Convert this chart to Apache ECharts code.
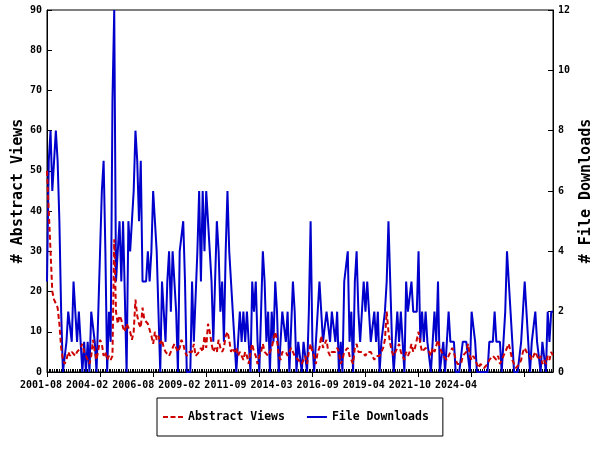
<!DOCTYPE html>
<html><head><meta charset="utf-8">
<script src="https://cdn.jsdelivr.net/npm/echarts@6/dist/echarts.min.js"></script>
<style>html,body{margin:0;padding:0;background:#fff}#c{width:600px;height:450px}</style>
</head><body><div id="c"></div>
<script>
// ---- data ----
const startYear = 2001, startMonth = 8, monthCount = 287;
const tickLabels = ['2001-08','2004-02','2006-08','2009-02','2011-09','2014-03','2016-09','2019-04','2021-10','2024-04'];
const abstractViews = [
 50,40,30,20,18,18,16,12,6,3,
 2,3,5,4,5,5,4,5,5,6,
 7,5,5,3,2,4,8,5,3,3,
 8,7,4,5,3,4,3,4,33,15,
 12,14,13,11,10,12,11,10,8,10,
 18,14,12,11,16,13,13,12,12,9,
 7,10,8,9,7,8,6,5,5,4,
 4,6,7,7,5,6,8,7,5,4,
 5,5,5,7,4,4,5,6,5,9,
 6,12,10,7,5,6,5,8,6,5,
 6,9,10,8,5,6,5,6,4,5,
 4,3,5,4,2,5,7,5,4,2,
 4,5,7,5,5,4,5,6,8,10,
 8,4,3,5,5,5,4,4,6,5,
 4,4,3,3,2,3,4,2,5,7,
 5,4,2,5,6,9,6,7,8,5,
 4,5,5,5,6,5,2,3,5,5,
 6,4,3,2,6,7,5,5,5,5,
 4,5,5,5,4,3,4,4,4,5,
 6,8,15,10,7,5,4,5,6,7,
 5,4,3,5,4,5,7,5,6,6,
 10,7,5,5,6,6,5,4,6,5,
 5,8,6,5,4,4,3,4,5,6,
 5,3,2,2,2,4,4,5,7,4,
 3,4,3,2,1,2,2,1,1,2,
 3,3,4,4,3,4,2,3,4,5,
 6,7,5,3,2,1,1,2,3,5,
 6,5,5,4,3,4,5,4,3,4,
 2,3,2,4,3,5,4
];
const fileDownloads = [
 3,7,8,6,6,8,7,5,2,0,
 0,1,2,2,1,3,2,1,2,2,
 0,1,0,1,0,2,2,1,0,2,
 4,6,7,4,0,2,1,9,12,3,
 4,5,3,5,5,0,5,4,5,6,
 8,7,5,7,3,3,3,4,3,4,
 6,5,4,2,0,3,2,1,3,4,
 2,4,4,2,0,4,4,5,3,0,
 0,0,3,1,1,4,6,3,6,4,
 6,5,4,3,1,3,5,4,2,3,
 1,4,6,4,3,2,2,0,1,2,
 1,2,1,2,1,0,3,2,3,1,
 0,2,4,3,1,2,0,2,1,3,
 2,0,1,2,2,1,2,0,0,3,
 2,0,1,1,0,1,1,0,2,5,
 1,0,1,1,3,2,1,1,2,2,
 1,2,2,1,2,0,1,0,3,3,
 4,1,2,0,3,4,2,1,1,3,
 2,3,2,1,1,2,1,2,0,1,
 1,2,3,5,3,1,0,1,2,1,
 2,1,0,3,2,2,3,2,2,2,
 4,1,2,1,2,1,1,0,1,2,
 1,3,0,0,1,0,1,2,1,1,
 1,0,0,0,0,1,1,1,1,0,
 2,2,1,0,0,0,0,0,0,0,
 1,1,1,2,1,1,1,0,1,2,
 4,3,2,1,0,0,0,0,1,2,
 3,2,1,0,1,1,2,1,1,0,
 1,1,0,2,1,2,2
];
const months = [];
for (let i = 0; i < monthCount; i++) {
  const m = startMonth - 1 + i;
  const y = startYear + Math.floor(m / 12);
  const mm = (m % 12) + 1;
  months.push(y + '-' + (mm < 10 ? '0' : '') + mm);
}

const FONT = "'DejaVu Sans Mono', monospace";
const chart = echarts.init(document.getElementById('c'), null, {renderer: 'canvas'});
chart.setOption({
  backgroundColor: '#fff',
  animation: false,
  grid: [
    {left: 47, right: 47, top: 10, bottom: 78, show: true, borderColor: '#000', borderWidth: 1,
     containLabel: false, outerBoundsMode: 'none'},
    {left: 41, right: 144, top: 10, bottom: 78, show: false, containLabel: false, outerBoundsMode: 'none'}
  ],
  legend: {
    left: 157, top: 398,
    padding: [12, 14, 12, 6],
    itemWidth: 20, itemHeight: 2, itemGap: 22,
    borderColor: '#000', borderWidth: 1,
    textStyle: {fontFamily: FONT, fontWeight: 'bold', fontSize: 11.5, color: '#000', lineHeight: 14},
    data: [
      {name: 'Abstract Views', icon: 'path://M0,0h5v2h-5z M7.5,0h5v2h-5z M15,0h5v2h-5z'},
      {name: 'File Downloads', icon: 'path://M0,0h20v2h-20z'}
    ]
  },
  xAxis: [
    {type: 'category', gridIndex: 0, data: months, boundaryGap: false,
     axisLine: {show: true, lineStyle: {color: '#000', width: 1}},
     axisTick: {show: true, interval: 29, inside: false, length: 5, lineStyle: {color: '#000'}},
     axisLabel: {show: false}, splitLine: {show: false}},
    {type: 'category', gridIndex: 0, data: months, boundaryGap: false, position: 'bottom',
     axisLine: {show: false},
     axisTick: {show: true, interval: 0, inside: true, length: 3, lineStyle: {color: '#000'}},
     axisLabel: {show: false}, splitLine: {show: false}},
    {type: 'category', gridIndex: 1, data: tickLabels, boundaryGap: false,
     axisLine: {show: false}, axisTick: {show: false},
     axisLabel: {show: true, interval: 0, color: '#000', fontFamily: FONT, fontWeight: 'bold', fontSize: 10, margin: 8},
     splitLine: {show: false}}
  ],
  yAxis: [
    {type: 'value', gridIndex: 0, position: 'left', min: 0, max: 90, interval: 10,
     axisLine: {show: true, lineStyle: {color: '#000'}},
     axisTick: {show: true, inside: true, length: 5, lineStyle: {color: '#000'}},
     axisLabel: {color: '#000', fontFamily: FONT, fontWeight: 'bold', fontSize: 10, margin: 5},
     splitLine: {show: false},
     name: '# Abstract Views', nameLocation: 'middle', nameRotate: 90, nameGap: 21, nameMoveOverlap: false,
     nameTextStyle: {fontFamily: FONT, fontWeight: 'bold', fontSize: 15, color: '#000'}},
    {type: 'value', gridIndex: 0, position: 'right', min: 0, max: 12, interval: 2,
     axisLine: {show: true, lineStyle: {color: '#000'}},
     axisTick: {show: true, inside: true, length: 5, lineStyle: {color: '#000'}},
     axisLabel: {color: '#000', fontFamily: FONT, fontWeight: 'bold', fontSize: 10, margin: 5},
     splitLine: {show: false},
     name: '# File Downloads', nameLocation: 'middle', nameRotate: 90, nameGap: 26, nameMoveOverlap: false,
     nameTextStyle: {fontFamily: FONT, fontWeight: 'bold', fontSize: 15, color: '#000'}},
    {type: 'value', gridIndex: 1, show: false, min: 0, max: 1}
  ],
  series: [
    {name: 'Abstract Views', type: 'line', xAxisIndex: 0, yAxisIndex: 0, data: abstractViews,
     symbol: 'none', z: 3,
     lineStyle: {color: '#CC0000', width: 2, type: [5, 3]}, itemStyle: {color: '#CC0000'}},
    {name: 'File Downloads', type: 'line', xAxisIndex: 0, yAxisIndex: 1, data: fileDownloads,
     symbol: 'none', z: 2,
     lineStyle: {color: '#0000CC', width: 2}, itemStyle: {color: '#0000CC'}}
  ]
});
</script>
</body></html>
